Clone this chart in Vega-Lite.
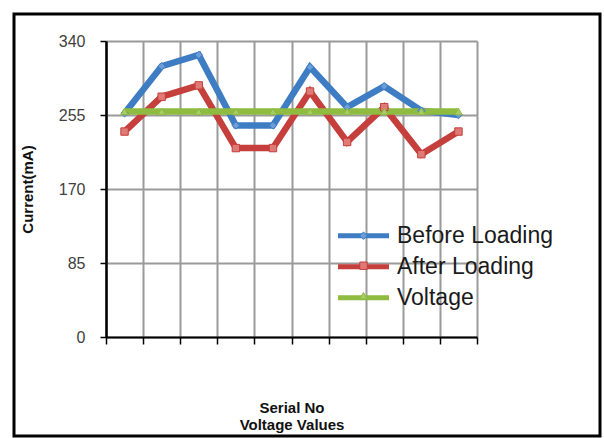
{
  "$schema": "https://vega.github.io/schema/vega-lite/v6.json",
  "width": 586,
  "height": 422,
  "autosize": "none",
  "padding": {"left": 14, "top": 14, "right": 4, "bottom": 2},
  "background": "white",
  "config": {"font": "Liberation Sans", "view": {"stroke": "black", "strokeWidth": 3}},
  "data": {"values": [
    {"serial": 1, "series": "Before Loading", "current": 257},
    {"serial": 2, "series": "Before Loading", "current": 311},
    {"serial": 3, "series": "Before Loading", "current": 324},
    {"serial": 4, "series": "Before Loading", "current": 243},
    {"serial": 5, "series": "Before Loading", "current": 243},
    {"serial": 6, "series": "Before Loading", "current": 310},
    {"serial": 7, "series": "Before Loading", "current": 264},
    {"serial": 8, "series": "Before Loading", "current": 288},
    {"serial": 9, "series": "Before Loading", "current": 260},
    {"serial": 10, "series": "Before Loading", "current": 255},
    {"serial": 1, "series": "After Loading", "current": 236},
    {"serial": 2, "series": "After Loading", "current": 276},
    {"serial": 3, "series": "After Loading", "current": 289},
    {"serial": 4, "series": "After Loading", "current": 217},
    {"serial": 5, "series": "After Loading", "current": 217},
    {"serial": 6, "series": "After Loading", "current": 282},
    {"serial": 7, "series": "After Loading", "current": 224},
    {"serial": 8, "series": "After Loading", "current": 264},
    {"serial": 9, "series": "After Loading", "current": 210},
    {"serial": 10, "series": "After Loading", "current": 236},
    {"serial": 1, "series": "Voltage", "current": 259},
    {"serial": 2, "series": "Voltage", "current": 259},
    {"serial": 3, "series": "Voltage", "current": 259},
    {"serial": 4, "series": "Voltage", "current": 259},
    {"serial": 5, "series": "Voltage", "current": 259},
    {"serial": 6, "series": "Voltage", "current": 259},
    {"serial": 7, "series": "Voltage", "current": 259},
    {"serial": 8, "series": "Voltage", "current": 259},
    {"serial": 9, "series": "Voltage", "current": 259},
    {"serial": 10, "series": "Voltage", "current": 259}
  ]},
  "encoding": {
    "x": {
      "field": "serial", "type": "ordinal",
      "scale": {"range": [92, 463], "paddingInner": 0, "paddingOuter": 0},
      "axis": {
        "orient": "top",
        "offset": -323,
        "labels": false,
        "title": ["Serial No", "Voltage Values"],
        "titleFontSize": 15, "titleFontWeight": "bold", "titleColor": "#111111",
        "titleLineHeight": 17, "titleBaseline": "top", "titleY": 63,
        "domainColor": "black", "domainWidth": 2,
        "tickColor": "black", "tickSize": -7, "tickWidth": 1.5, "tickBand": "extent",
        "grid": true, "gridColor": "#9a9a9a", "gridWidth": 2
      }
    },
    "y": {
      "field": "current", "type": "quantitative",
      "scale": {"domain": [0, 340], "range": [323, 27], "nice": false, "zero": true},
      "axis": {
        "values": [0, 85, 170, 255, 340],
        "offset": -92,
        "title": "Current(mA)",
        "titleFontSize": 15, "titleFontWeight": "bold", "titleColor": "#111111", "titlePadding": 23,
        "labelFontSize": 16, "labelColor": "#404040", "labelPadding": 15,
        "tickSize": 6, "tickColor": "black", "tickWidth": 1.5,
        "domainColor": "black", "domainWidth": 2.5,
        "grid": true, "gridColor": "#9a9a9a", "gridWidth": 2
      }
    }
  },
  "layer": [
    {
      "mark": {"type": "line", "strokeWidth": 6.5},
      "encoding": {
        "color": {
          "field": "series", "type": "nominal",
          "sort": ["Before Loading", "After Loading", "Voltage"],
          "scale": {"range": ["#3E7CC3", "#C53F3C", "#8EBB40"]},
          "legend": {
            "orient": "none", "legendX": 321.5, "legendY": 210.7, "title": null,
            "symbolType": "stroke", "symbolSize": 2601, "symbolStrokeWidth": 5,
            "clipHeight": 22,
            "labelFontSize": 23, "labelColor": "#1a1a1a", "labelOffset": 5.5, "labelLimit": 400,
            "rowPadding": 8, "padding": 0
          }
        }
      }
    },
    {
      "mark": {"type": "point", "filled": true, "opacity": 1, "strokeWidth": 1, "size": 55},
      "encoding": {
        "shape": {
          "field": "series", "type": "nominal",
          "scale": {"domain": ["Before Loading", "After Loading", "Voltage"], "range": ["diamond", "square", "triangle-up"]},
          "legend": {
            "orient": "none", "legendX": 338.5, "legendY": 210.7, "title": null,
            "labelExpr": "''", "labelFontSize": 22, "labelOffset": 22.5, "rowPadding": 8, "padding": 0,
            "symbolSize": 55, "symbolStrokeWidth": 1, "symbolOpacity": 1
          }
        },
        "fill": {
          "field": "series", "type": "nominal",
          "scale": {"domain": ["Before Loading", "After Loading", "Voltage"], "range": ["#6C9FD8", "#E07A76", "#A8CC66"]},
          "legend": {
            "orient": "none", "legendX": 338.5, "legendY": 210.7, "title": null,
            "labelExpr": "''", "labelFontSize": 22, "labelOffset": 22.5, "rowPadding": 8, "padding": 0,
            "symbolSize": 55, "symbolStrokeWidth": 1, "symbolOpacity": 1
          }
        },
        "stroke": {
          "field": "series", "type": "nominal",
          "scale": {"domain": ["Before Loading", "After Loading", "Voltage"], "range": ["#3E7CC3", "#C53F3C", "#8EBB40"]},
          "legend": {
            "orient": "none", "legendX": 338.5, "legendY": 210.7, "title": null,
            "labelExpr": "''", "labelFontSize": 22, "labelOffset": 22.5, "rowPadding": 8, "padding": 0,
            "symbolSize": 55, "symbolStrokeWidth": 1, "symbolOpacity": 1
          }
        }
      }
    }
  ]
}
